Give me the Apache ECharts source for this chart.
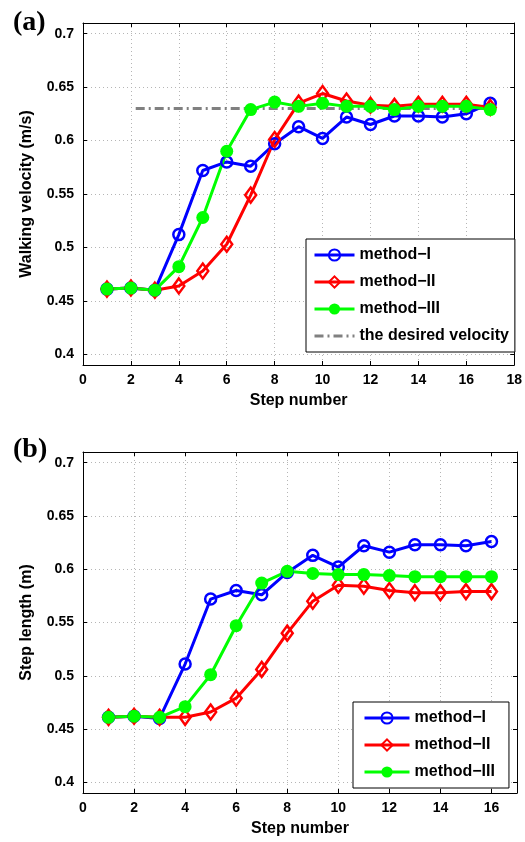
<!DOCTYPE html>
<html>
<head>
<meta charset="utf-8">
<script src="https://cdn.jsdelivr.net/npm/echarts@6/dist/echarts.min.js"></script>
<style>
  html, body { margin: 0; padding: 0; background: #fff; }
  #main { width: 525px; height: 842px; }
</style>
</head>
<body>
<div id="main"></div>
<script>
// ---- data ----
var stepsA = [1, 2, 3, 4, 5, 6, 7, 8, 9, 10, 11, 12, 13, 14, 15, 16, 17];
var velI   = [0.461, 0.462, 0.460, 0.512, 0.572, 0.580, 0.576, 0.597, 0.613, 0.602, 0.622, 0.615, 0.623, 0.623, 0.622, 0.625, 0.635];
var velII  = [0.461, 0.462, 0.460, 0.464, 0.478, 0.503, 0.549, 0.601, 0.635, 0.644, 0.637, 0.633, 0.632, 0.634, 0.634, 0.634, 0.631];
var velIII = [0.461, 0.462, 0.460, 0.482, 0.528, 0.590, 0.629, 0.636, 0.632, 0.635, 0.632, 0.632, 0.629, 0.632, 0.632, 0.632, 0.629];
var desiredSteps = [2.2, 17];
var desiredVel = [0.63, 0.63];

var stepsB = [1, 2, 3, 4, 5, 6, 7, 8, 9, 10, 11, 12, 13, 14, 15, 16];
var lenI   = [0.461, 0.462, 0.460, 0.511, 0.572, 0.580, 0.576, 0.597, 0.613, 0.602, 0.622, 0.616, 0.623, 0.623, 0.622, 0.626];
var lenII  = [0.461, 0.462, 0.461, 0.461, 0.466, 0.479, 0.506, 0.540, 0.570, 0.585, 0.584, 0.580, 0.578, 0.578, 0.579, 0.579];
var lenIII = [0.461, 0.462, 0.461, 0.471, 0.501, 0.547, 0.587, 0.598, 0.596, 0.595, 0.595, 0.594, 0.593, 0.593, 0.593, 0.593];

var yTicks = [0.4, 0.45, 0.5, 0.55, 0.6, 0.65, 0.7];
var xTicksA = [0, 2, 4, 6, 8, 10, 12, 14, 16, 18];
var xTicksB = [0, 2, 4, 6, 8, 10, 12, 14, 16];

var names = ['method\u2212I', 'method\u2212II', 'method\u2212III', 'the desired velocity'];

function pairs(xs, ys) {
  return xs.map(function (x, i) { return [x, ys[i]]; });
}

var font = 'Liberation Sans, Arial, sans-serif';
var gridLine = { show: true, lineStyle: { color: '#b5b5b5', type: [1, 3], width: 1 } };
var frame = { show: true, onZero: false, lineStyle: { color: '#000', width: 1 } };

function xAxis(grid, max, ticks, bottom) {
  return {
    type: 'value', gridIndex: grid, min: 0, max: max,
    position: bottom ? 'bottom' : 'top',
    name: bottom ? 'Step number' : '', nameLocation: 'middle', nameGap: 28,
    nameTextStyle: { fontFamily: font, fontWeight: 'bold', fontSize: 16, color: '#000' },
    axisLine: frame,
    axisTick: { show: true, inside: true, length: 4, customValues: ticks, lineStyle: { color: '#000' } },
    axisLabel: { show: bottom, customValues: ticks, margin: 8, fontFamily: font, fontWeight: 'bold', fontSize: 14, color: '#000' },
    splitLine: bottom ? gridLine : { show: false }
  };
}

function yAxis(grid, name, left) {
  return {
    type: 'value', gridIndex: grid, min: 0.39, max: 0.71,
    position: left ? 'left' : 'right',
    name: left ? name : '', nameLocation: 'middle', nameGap: 48,
    nameTextStyle: { fontFamily: font, fontWeight: 'bold', fontSize: 16, color: '#000' },
    axisLine: frame,
    axisTick: { show: true, inside: true, length: 4, customValues: yTicks, lineStyle: { color: '#000' } },
    axisLabel: { show: left, customValues: yTicks, margin: 9, fontFamily: font, fontWeight: 'bold', fontSize: 14, color: '#000' },
    splitLine: left ? gridLine : { show: false }
  };
}

function methodSeries(name, idx, xs, ys, kind) {
  var s = {
    name: name, type: 'line', xAxisIndex: idx * 2, yAxisIndex: idx * 2,
    data: pairs(xs, ys), z: 3, animation: false,
    lineStyle: { width: 3 }
  };
  if (kind === 'I') {
    s.symbol = 'circle'; s.symbolSize = 11;
    s.lineStyle.color = '#0000ff';
    s.itemStyle = { color: 'rgba(255,255,255,0)', borderColor: '#0000ff', borderWidth: 2.5 };
  } else if (kind === 'II') {
    s.symbol = 'diamond'; s.symbolSize = [11, 15];
    s.lineStyle.color = '#ff0000';
    s.itemStyle = { color: 'rgba(255,255,255,0)', borderColor: '#ff0000', borderWidth: 2.5 };
  } else {
    s.symbol = 'circle'; s.symbolSize = 13;
    s.lineStyle.color = '#00ff00';
    s.itemStyle = { color: '#00ff00', borderColor: '#00ff00', borderWidth: 0 };
  }
  return s;
}

var legendBase = {
  orient: 'vertical', backgroundColor: '#fff', borderColor: '#000', borderWidth: 1, borderRadius: 0,
  itemWidth: 40, itemHeight: 14, itemGap: 11, padding: [8, 6, 8, 7],
  lineStyle: { width: 3 },
  textStyle: { fontFamily: font, fontWeight: 'bold', fontSize: 16, color: '#000' },
  selectedMode: false
};

var myChart = echarts.init(document.getElementById('main'), null, { renderer: 'canvas' });
myChart.setOption({
  backgroundColor: '#fff',
  animation: false,
  title: [
    { text: '(a)', left: 8, top: 4, textStyle: { fontFamily: 'Liberation Serif, Times New Roman, serif', fontWeight: 'bold', fontSize: 28, color: '#000' } },
    { text: '(b)', left: 8, top: 431, textStyle: { fontFamily: 'Liberation Serif, Times New Roman, serif', fontWeight: 'bold', fontSize: 28, color: '#000' } }
  ],
  grid: [
    { left: 83, top: 23, width: 434, height: 342 },
    { left: 83, top: 452, width: 434, height: 341 }
  ],
  xAxis: [
    xAxis(0, 18, xTicksA, true), xAxis(0, 18, xTicksA, false),
    xAxis(1, 17, xTicksB, true), xAxis(1, 17, xTicksB, false)
  ],
  yAxis: [
    yAxis(0, 'Walking velocity (m/s)', true), yAxis(0, '', false),
    yAxis(1, 'Step length (m)', true), yAxis(1, '', false)
  ],
  legend: [
    Object.assign({}, legendBase, { left: 306, top: 239, data: names }),
    Object.assign({}, legendBase, { left: 353, top: 702, itemWidth: 45, padding: [8, 14, 8, 10], data: names.slice(0, 3) })
  ],
  series: [
    {
      name: names[3], type: 'line', xAxisIndex: 0, yAxisIndex: 0, z: 2,
      data: pairs(desiredSteps, desiredVel), symbol: 'none',
      lineStyle: { color: '#808080', width: 3, type: [9, 4, 2, 4] },
      itemStyle: { color: 'rgba(0,0,0,0)', borderWidth: 0 }
    },
    methodSeries(names[0], 0, stepsA, velI, 'I'),
    methodSeries(names[1], 0, stepsA, velII, 'II'),
    methodSeries(names[2], 0, stepsA, velIII, 'III'),
    methodSeries(names[0], 1, stepsB, lenI, 'I'),
    methodSeries(names[1], 1, stepsB, lenII, 'II'),
    methodSeries(names[2], 1, stepsB, lenIII, 'III')
  ]
});
</script>
</body>
</html>
